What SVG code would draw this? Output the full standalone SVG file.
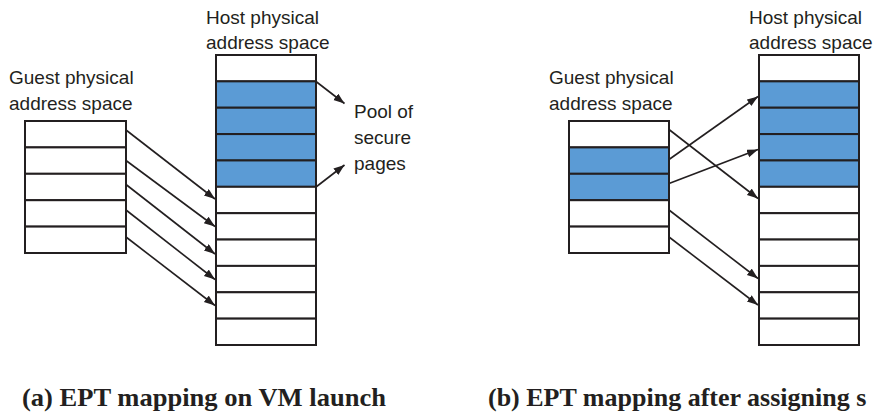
<svg xmlns="http://www.w3.org/2000/svg" width="874" height="415" viewBox="0 0 874 415">
<defs>
<style>
.cell{fill:#ffffff;stroke:#231f20;stroke-width:2}
.sec{fill:#5b9bd5;stroke:#231f20;stroke-width:2}
.lbl{font-family:"Liberation Sans",Arial,sans-serif;font-size:19px;fill:#231f20}
.cap{font-family:"Liberation Serif","Times New Roman",serif;font-size:26px;font-weight:bold;fill:#231f20}
.arr{stroke:#231f20;stroke-width:1.6;fill:none;marker-end:url(#ah)}
</style>
<marker id="ah" markerUnits="userSpaceOnUse" markerWidth="12" markerHeight="10" refX="11" refY="4" orient="auto">
<path d="M0,0 L11,4 L0,8 Z" fill="#231f20"/>
</marker>
</defs>
<rect width="874" height="415" fill="#ffffff"/>

<g id="guest-a">
<text class="lbl" x="9" y="84">Guest physical</text>
<text class="lbl" x="9" y="110">address space</text>
<rect class="cell" x="25" y="121" width="101" height="26.4"/>
<rect class="cell" x="25" y="147.4" width="101" height="26.4"/>
<rect class="cell" x="25" y="173.8" width="101" height="26.4"/>
<rect class="cell" x="25" y="200.2" width="101" height="26.4"/>
<rect class="cell" x="25" y="226.6" width="101" height="26.4"/>
</g>

<g id="host-a">
<text class="lbl" x="206" y="24">Host physical</text>
<text class="lbl" x="206" y="49">address space</text>
<rect class="cell" x="216" y="55" width="100" height="26.36"/>
<rect class="sec" x="216" y="81.36" width="100" height="26.36"/>
<rect class="sec" x="216" y="107.73" width="100" height="26.36"/>
<rect class="sec" x="216" y="134.09" width="100" height="26.36"/>
<rect class="sec" x="216" y="160.45" width="100" height="26.36"/>
<rect class="cell" x="216" y="186.82" width="100" height="26.36"/>
<rect class="cell" x="216" y="213.18" width="100" height="26.36"/>
<rect class="cell" x="216" y="239.55" width="100" height="26.36"/>
<rect class="cell" x="216" y="265.91" width="100" height="26.36"/>
<rect class="cell" x="216" y="292.27" width="100" height="26.36"/>
<rect class="cell" x="216" y="318.64" width="100" height="26.36"/>
</g>

<g id="pool-label">
<text class="lbl" x="354" y="118">Pool of</text>
<text class="lbl" x="354" y="144">secure</text>
<text class="lbl" x="354" y="170">pages</text>
</g>

<g id="guest-b">
<text class="lbl" x="549" y="84">Guest physical</text>
<text class="lbl" x="549" y="110">address space</text>
<rect class="cell" x="569" y="121" width="100" height="26.4"/>
<rect class="sec" x="569" y="147.4" width="100" height="26.4"/>
<rect class="sec" x="569" y="173.8" width="100" height="26.4"/>
<rect class="cell" x="569" y="200.2" width="100" height="26.4"/>
<rect class="cell" x="569" y="226.6" width="100" height="26.4"/>
</g>

<g id="host-b">
<text class="lbl" x="749" y="24">Host physical</text>
<text class="lbl" x="749" y="49">address space</text>
<rect class="cell" x="759" y="55" width="100" height="26.36"/>
<rect class="sec" x="759" y="81.36" width="100" height="26.36"/>
<rect class="sec" x="759" y="107.73" width="100" height="26.36"/>
<rect class="sec" x="759" y="134.09" width="100" height="26.36"/>
<rect class="sec" x="759" y="160.45" width="100" height="26.36"/>
<rect class="cell" x="759" y="186.82" width="100" height="26.36"/>
<rect class="cell" x="759" y="213.18" width="100" height="26.36"/>
<rect class="cell" x="759" y="239.55" width="100" height="26.36"/>
<rect class="cell" x="759" y="265.91" width="100" height="26.36"/>
<rect class="cell" x="759" y="292.27" width="100" height="26.36"/>
<rect class="cell" x="759" y="318.64" width="100" height="26.36"/>
</g>

<g id="connectors">
<line class="arr" x1="126" y1="130" x2="215" y2="199"/>
<line class="arr" x1="126" y1="160.5" x2="215" y2="226.5"/>
<line class="arr" x1="126" y1="184.5" x2="215" y2="254"/>
<line class="arr" x1="126" y1="210" x2="215" y2="279.5"/>
<line class="arr" x1="126" y1="237" x2="215" y2="305.5"/>
<line class="arr" x1="316" y1="81.5" x2="344.5" y2="103.5"/>
<line class="arr" x1="316" y1="187" x2="344.5" y2="165"/>
<line class="arr" x1="669" y1="129.5" x2="758" y2="198.5"/>
<line class="arr" x1="669" y1="159.5" x2="758" y2="96.5"/>
<line class="arr" x1="669" y1="183.5" x2="758" y2="149.5"/>
<line class="arr" x1="669" y1="210" x2="758" y2="278.5"/>
<line class="arr" x1="669" y1="237" x2="758" y2="305"/>
</g>

<g id="captions">
<text class="cap" x="22" y="406" textLength="364" lengthAdjust="spacingAndGlyphs">(a) EPT mapping on VM launch</text>
<text class="cap" x="488" y="406">(b) EPT mapping after assigning s</text>
</g>
</svg>
